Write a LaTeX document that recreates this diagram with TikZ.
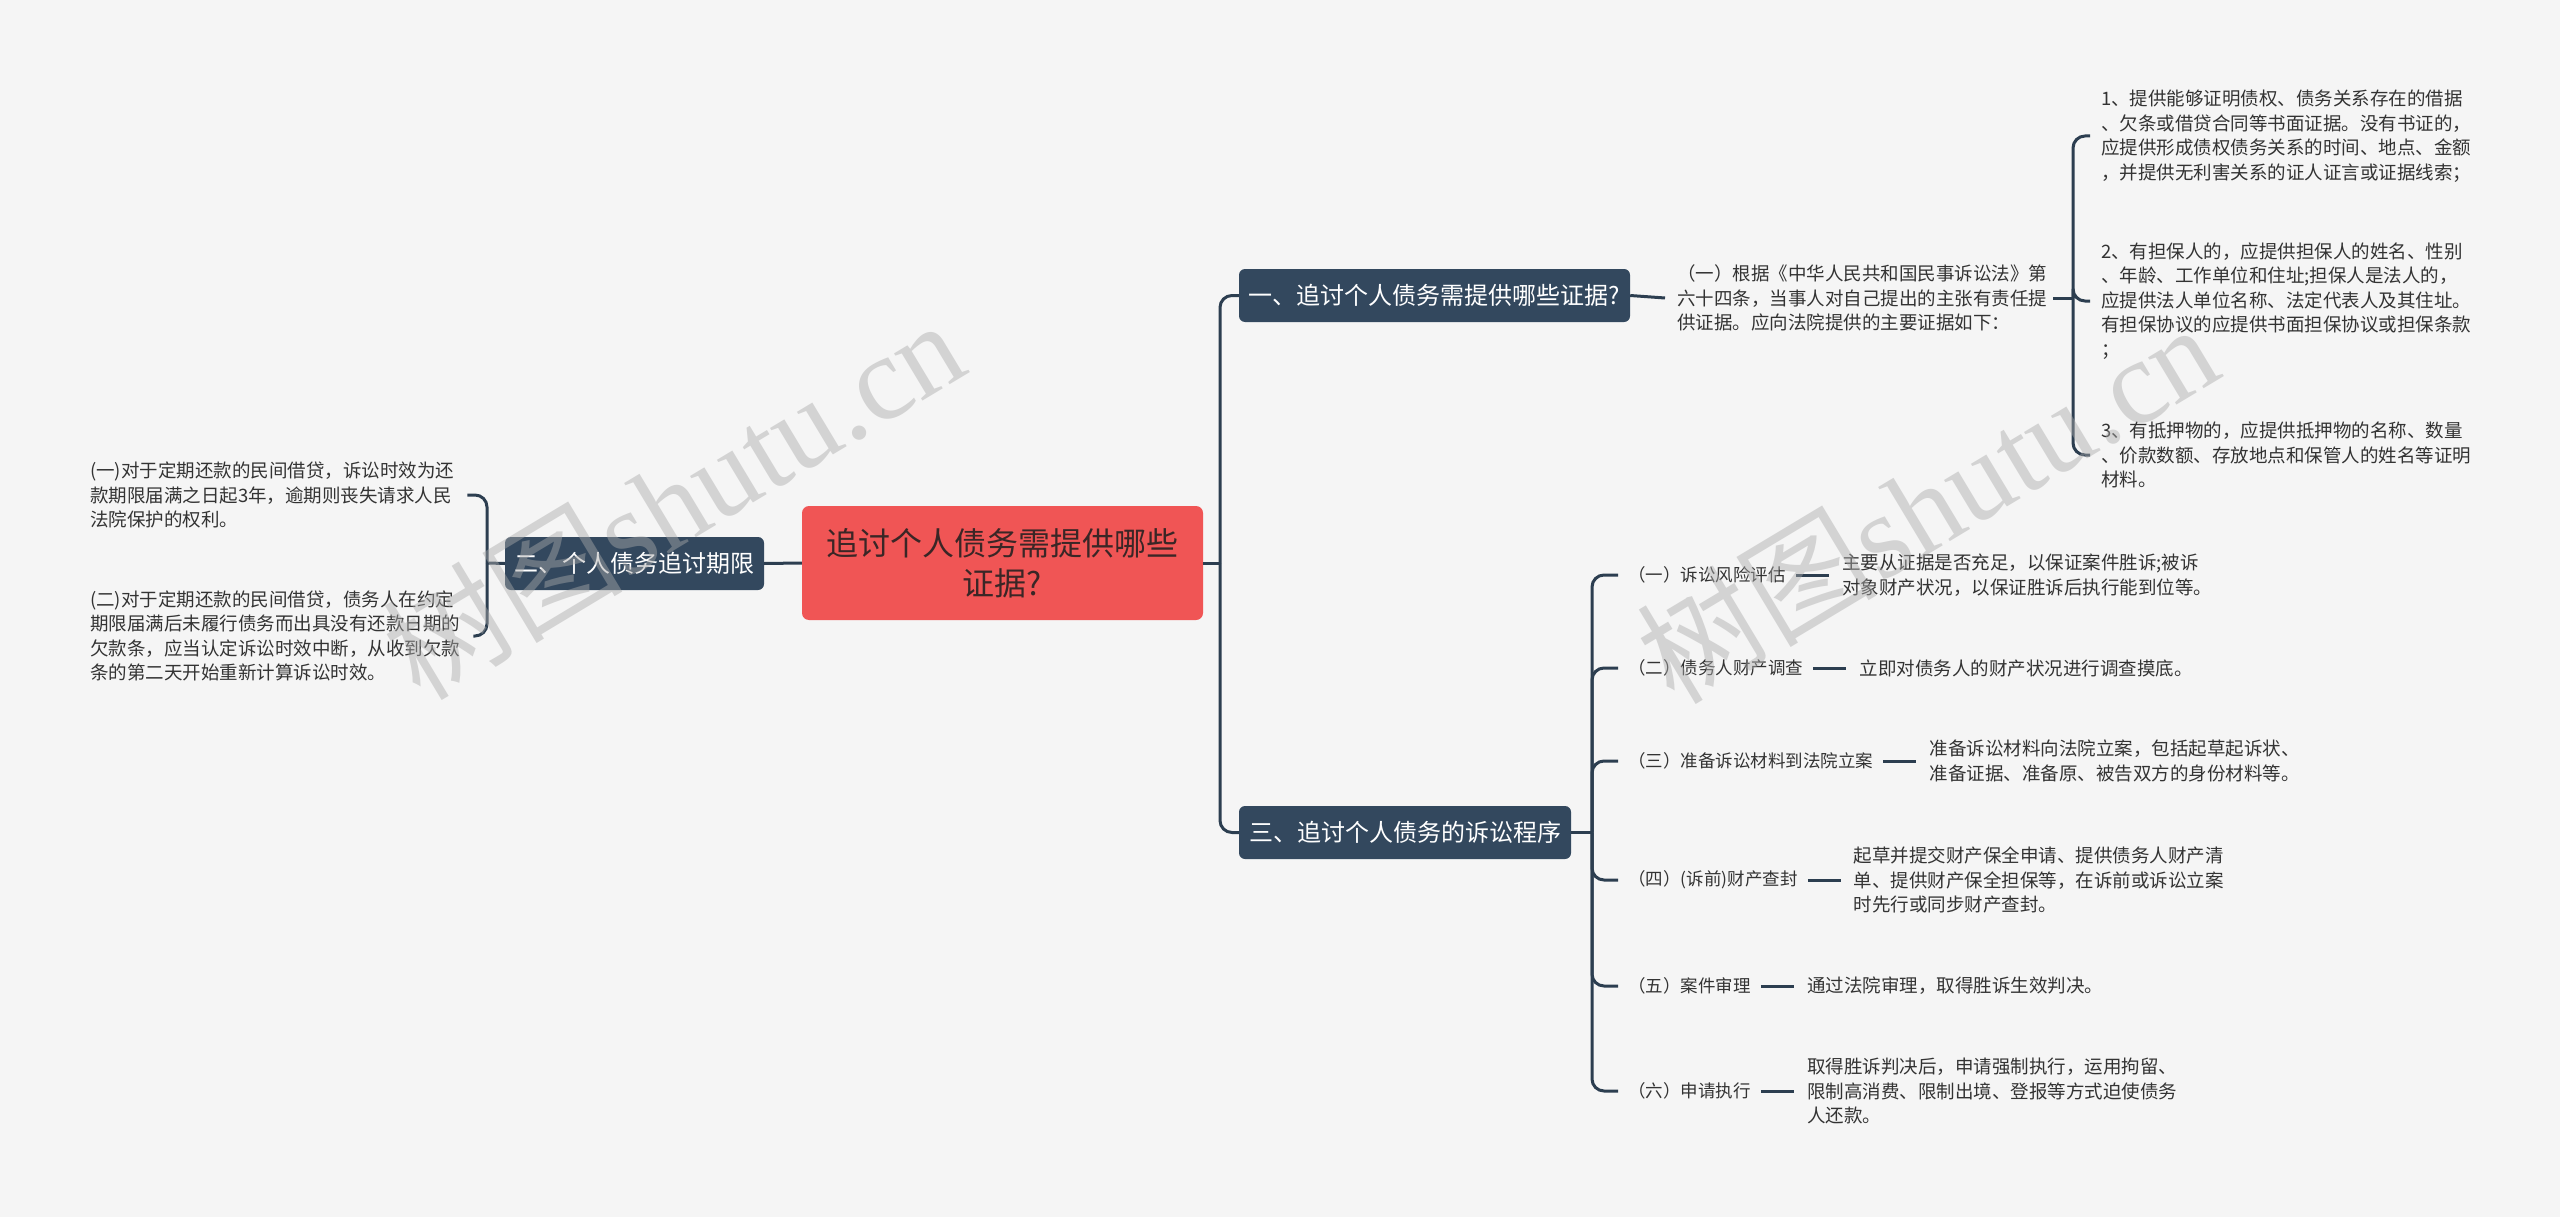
\documentclass[tikz,border=0pt]{standalone}
\usepackage{fontspec}
\setmainfont{Noto Sans CJK SC}
\newfontfamily\wmserif{Liberation Serif}
\usetikzlibrary{calc}
\definecolor{bg}{HTML}{F5F5F5}
\definecolor{navy}{HTML}{33485E}
\definecolor{lnk}{HTML}{2C3E50}
\definecolor{redc}{HTML}{F05555}
\definecolor{redtxt}{HTML}{3A2626}
\definecolor{txt}{HTML}{333333}
\definecolor{wm}{HTML}{AAAAAA}
\begin{document}
\begin{tikzpicture}[x=1pt,y=-1pt,
  conn/.style={draw=lnk,line width=3pt,rounded corners=12pt},
  rootbox/.style={fill=redc,rounded corners=7pt,minimum width=401pt,minimum height=114pt,text=redtxt,font=\fontsize{32}{40}\selectfont,align=center,inner sep=0pt},
  mainbox/.style={fill=navy,rounded corners=6pt,minimum height=53pt,text=white,font=\fontsize{24}{28}\selectfont,inner sep=0pt},
  leaf/.style={text=txt,font=\fontsize{18.5}{24.5}\selectfont,align=left,inner sep=0pt,anchor=west},
  sublabel/.style={leaf,font=\fontsize{17.5}{24.5}\selectfont},
  wmark/.style={text=wm,opacity=0.45,font=\fontsize{120}{120}\selectfont,rotate=31,inner sep=0pt}
]
\path[use as bounding box,fill=bg] (0,0) rectangle (2560,1217);

% main nodes
\node[rootbox] (root) at (1002.5,563) {追讨个人债务需提供哪些\\证据?};
\node[mainbox,minimum width=391pt] (b1) at (1434.5,295.5) {一、追讨个人债务需提供哪些证据?};
\node[mainbox,minimum width=259pt] (b2) at (634.5,563.5) {二、个人债务追讨期限};
\node[mainbox,minimum width=332pt] (b3) at (1405,832.5) {三、追讨个人债务的诉讼程序};

% root connectors
\coordinate (jc) at (1220,563);
\draw[conn] (root.east) -- (jc);
\draw[conn] (jc) |- (b1.west);
\draw[conn] (jc) |- (b3.west);
\draw[conn] (root.west) -- (b2.east);

% branch one
\node[leaf] (m1) at (1677,298) {（一）根据《中华人民共和国民事诉讼法》第\\六十四条，当事人对自己提出的主张有责任提\\供证据。应向法院提供的主要证据如下：};
\draw[conn] (b1.east) -- ([xshift=-12pt]m1.west);
\coordinate (jr) at (2073,298);
\draw[conn] ([xshift=6pt]m1.east) -- (jr);
\node[leaf] (r1) at (2101,136) {1、提供能够证明债权、债务关系存在的借据\\、欠条或借贷合同等书面证据。没有书证的，\\应提供形成债权债务关系的时间、地点、金额\\，并提供无利害关系的证人证言或证据线索；};
\node[leaf] (r2) at (2101,301) {2、有担保人的，应提供担保人的姓名、性别\\、年龄、工作单位和住址;担保人是法人的，\\应提供法人单位名称、法定代表人及其住址。\\有担保协议的应提供书面担保协议或担保条款\\；};
\node[leaf] (r3) at (2101,455) {3、有抵押物的，应提供抵押物的名称、数量\\、价款数额、存放地点和保管人的姓名等证明\\材料。};
\draw[conn] (jr) |- ([xshift=-11pt]r1.west);
\draw[conn] (jr) |- ([xshift=-11pt]r2.west);
\draw[conn] (jr) |- ([xshift=-11pt]r3.west);

% branch two
\coordinate (jl) at (487,563);
\draw[conn] (b2.west) -- (jl);
\node[leaf] (l1) at (90,495) {(一)对于定期还款的民间借贷，诉讼时效为还\\款期限届满之日起3年，逾期则丧失请求人民\\法院保护的权利。};
\node[leaf] (l2) at (90,636) {(二)对于定期还款的民间借贷，债务人在约定\\期限届满后未履行债务而出具没有还款日期的\\欠款条，应当认定诉讼时效中断，从收到欠款\\条的第二天开始重新计算诉讼时效。};
\draw[conn] (jl) |- ([xshift=13pt]l1.east);
\draw[conn] (jl) |- ([xshift=13pt]l2.east);

% branch three
\coordinate (j3) at (1592,832.5);
\draw[conn] (b3.east) -- (j3);
\foreach \n/\y/\lab/\desc in {
  1/575/{（一）诉讼风险评估}/{主要从证据是否充足，以保证案件胜诉;被诉\\对象财产状况，以保证胜诉后执行能到位等。},
  2/668/{（二）债务人财产调查}/{立即对债务人的财产状况进行调查摸底。},
  3/761/{（三）准备诉讼材料到法院立案}/{准备诉讼材料向法院立案，包括起草起诉状、\\准备证据、准备原、被告双方的身份材料等。},
  4/880/{（四）(诉前)财产查封}/{起草并提交财产保全申请、提供债务人财产清\\单、提供财产保全担保等，在诉前或诉讼立案\\时先行或同步财产查封。},
  5/986/{（五）案件审理}/{通过法院审理，取得胜诉生效判决。},
  6/1091/{（六）申请执行}/{取得胜诉判决后，申请强制执行，运用拘留、\\限制高消费、限制出境、登报等方式迫使债务\\人还款。}}{
  \node[sublabel] (c\n) at (1628,\y) {\lab};
  \node[leaf] (d\n) at ([xshift=56pt]c\n.east) {\desc};
  \draw[conn] (j3) |- ([xshift=-10pt]c\n.west);
  \draw[conn] ([xshift=10pt]c\n.east) -- ([xshift=-13pt]d\n.west);
}

% watermarks
\node[wmark] (w1) at (673,498) {树图\wmserif shutu.cn};
\node[wmark] (w2) at (1927,502) {树图\wmserif shutu.cn};
\end{tikzpicture}
\end{document}
